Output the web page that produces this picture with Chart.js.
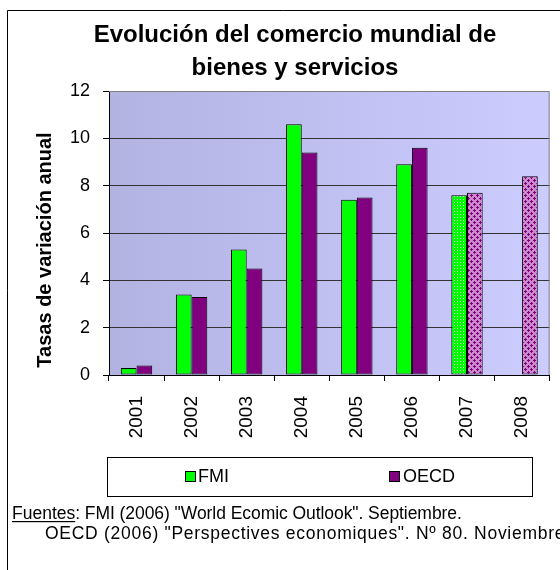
<!DOCTYPE html>
<html>
<head>
<meta charset="utf-8">
<script src="https://cdn.jsdelivr.net/npm/chart.js@4/dist/chart.umd.min.js"></script>
<style>
html,body{margin:0;padding:0;background:#fff;}
#wrap{position:relative;width:560px;height:570px;overflow:hidden;}
canvas{display:block;}
</style>
</head>
<body>
<div id="wrap"><canvas id="c" width="560" height="570"></canvas></div>
<script>
// ---------- data ----------
const categories = ['2001', '2002', '2003', '2004', '2005', '2006', '2007', '2008'];
const fmiValues  = [0.3, 3.4, 5.3, 10.6, 7.4, 8.9, 7.6, null];
const oecdValues = [0.4, 3.3, 4.5, 9.4, 7.5, 9.6, 7.7, 8.4];
const seriesNames = ['FMI', 'OECD'];
const forecastYears = ['2007', '2008'];
const yMin = 0, yMax = 12, yStep = 2;
const titleLines = ['Evolución del comercio mundial de', 'bienes y servicios'];
const yAxisTitle = 'Tasas de variación anual';
const sourceLabel = 'Fuentes';
const sourceLine1 = ': FMI (2006) "World Ecomic Outlook". Septiembre.';
const sourceLine2 = 'OECD (2006) "Perspectives economiques". Nº 80. Noviembre';

// ---------- styles ----------
const FONT = '"Liberation Sans", Arial, Helvetica, sans-serif';
const GREEN = '#00FF00';
const PURPLE = '#800080';

function makePattern(kind) {
  const c = document.createElement('canvas');
  const x = c.getContext('2d');
  if (kind === 'dots') {
    c.width = 3; c.height = 3;
    x.fillStyle = GREEN; x.fillRect(0, 0, 3, 3);
    x.fillStyle = '#D8FFD8'; x.fillRect(1, 1, 1, 1);
  } else {
    c.width = 6; c.height = 6;
    x.fillStyle = '#CC8ACC'; x.fillRect(0, 0, 6, 6);
    x.fillStyle = PURPLE;
    x.fillRect(2, 3, 3, 1); x.fillRect(3, 2, 1, 3);
    x.fillRect(0, 0, 2, 1); x.fillRect(5, 0, 1, 1);
    x.fillRect(0, 1, 1, 1); x.fillRect(0, 5, 1, 1);
  }
  return document.getElementById('c').getContext('2d').createPattern(c, 'repeat');
}
const greenPattern = makePattern('dots');
const purplePattern = makePattern('check');

const fmiColors = categories.map(c => forecastYears.includes(c) ? greenPattern : GREEN);
const oecdColors = categories.map(c => forecastYears.includes(c) ? purplePattern : PURPLE);

function fitText(ctx, text, x, y, targetRight) {
  ctx.save();
  ctx.letterSpacing = '0px';
  const w = ctx.measureText(text).width;
  const extra = (targetRight - x - w) / text.length;
  ctx.letterSpacing = extra.toFixed(2) + 'px';
  ctx.fillText(text, x, y);
  ctx.restore();
}

const decorPlugin = {
  id: 'decor',
  beforeDraw(chart) {
    const ctx = chart.ctx, a = chart.chartArea;
    ctx.save();
    ctx.fillStyle = '#ffffff';
    ctx.fillRect(0, 0, chart.width, chart.height);
    const g = ctx.createLinearGradient(a.left, a.top, a.right, a.top);
    g.addColorStop(0, '#B3B3E2');
    g.addColorStop(1, '#CCCCFF');
    ctx.fillStyle = g;
    ctx.fillRect(a.left, a.top, a.right - a.left, a.bottom - a.top);
    ctx.restore();
  },
  afterDraw(chart) {
    const ctx = chart.ctx, a = chart.chartArea;
    ctx.save();
    ctx.strokeStyle = '#808080';
    ctx.lineWidth = 1;
    ctx.beginPath();
    ctx.moveTo(a.left, a.top + 0.5);
    ctx.lineTo(a.right - 0.5, a.top + 0.5);
    ctx.lineTo(a.right - 0.5, a.bottom);
    ctx.stroke();

    ctx.strokeStyle = '#000';
    ctx.beginPath();
    ctx.moveTo(7.5, chart.height);
    ctx.lineTo(7.5, 10.5);
    ctx.lineTo(chart.width, 10.5);
    ctx.stroke();

    ctx.fillStyle = '#000';
    ctx.textAlign = 'center';
    ctx.textBaseline = 'alphabetic';
    ctx.font = 'bold 24px ' + FONT;
    ctx.fillText(titleLines[0], 295, 42);
    ctx.fillText(titleLines[1], 295, 75);

    ctx.save();
    ctx.translate(45, 250);
    ctx.rotate(-Math.PI / 2);
    ctx.font = 'bold 20px ' + FONT;
    ctx.textBaseline = 'middle';
    ctx.fillText(yAxisTitle, 0, 0);
    ctx.restore();

    ctx.strokeStyle = '#000';
    ctx.strokeRect(107.5, 457.5, 425, 39);
    const items = [
      {label: chart.data.datasets[0].label, color: GREEN, sx: 185, tx: 198},
      {label: chart.data.datasets[1].label, color: PURPLE, sx: 389, tx: 403}
    ];
    ctx.font = '18px ' + FONT;
    ctx.textAlign = 'left';
    items.forEach(it => {
      ctx.fillStyle = it.color;
      ctx.fillRect(it.sx, 471, 10, 10);
      ctx.strokeRect(it.sx + 0.5, 471.5, 10, 10);
      ctx.fillStyle = '#000';
      ctx.fillText(it.label, it.tx, 482);
    });

    ctx.font = '17.5px ' + FONT;
    ctx.fillText(sourceLabel, 12, 519);
    const w = ctx.measureText(sourceLabel).width;
    fitText(ctx, sourceLine1, 12 + w, 519, 462);
    ctx.fillRect(12, 521, w, 1.2);
    fitText(ctx, sourceLine2, 45, 539, 565);
    ctx.restore();
  }
};

new Chart(document.getElementById('c'), {
  type: 'bar',
  data: {
    labels: categories,
    datasets: [
      {label: seriesNames[0], data: fmiValues, backgroundColor: fmiColors,
       borderColor: '#000', borderWidth: 1, borderSkipped: false},
      {label: seriesNames[1], data: oecdValues, backgroundColor: oecdColors,
       borderColor: '#000', borderWidth: 1, borderSkipped: false}
    ]
  },
  options: {
    responsive: false,
    animation: false,
    devicePixelRatio: 1,
    layout: {padding: {top: 91, right: 2, left: 0, bottom: 0}},
    datasets: {bar: {categoryPercentage: 0.57, barPercentage: 1}},
    plugins: {legend: {display: false}, title: {display: false}, tooltip: {enabled: false}},
    scales: {
      x: {
        offset: true,
        grid: {offset: true, drawOnChartArea: false, drawTicks: true, tickLength: 6, color: '#000', tickColor: '#000'},
        border: {display: true, color: '#000', width: 1},
        ticks: {minRotation: 90, maxRotation: 90, autoSkip: false, padding: 15, color: '#000',
                font: {family: FONT, size: 19}},
        afterFit(s) { s.height = 195; }
      },
      y: {
        min: yMin, max: yMax,
        grid: {color: c => c.tick && c.tick.value === yMax ? 'rgba(0,0,0,0)' : '#333333',
               tickColor: '#000', tickLength: 6, drawTicks: true},
        border: {display: true, color: '#000', width: 1},
        ticks: {stepSize: yStep, padding: 13, color: '#000', font: {family: FONT, size: 18}},
        afterFit(s) { s.width = 109; }
      }
    }
  },
  plugins: [decorPlugin]
});
</script>
</body>
</html>
